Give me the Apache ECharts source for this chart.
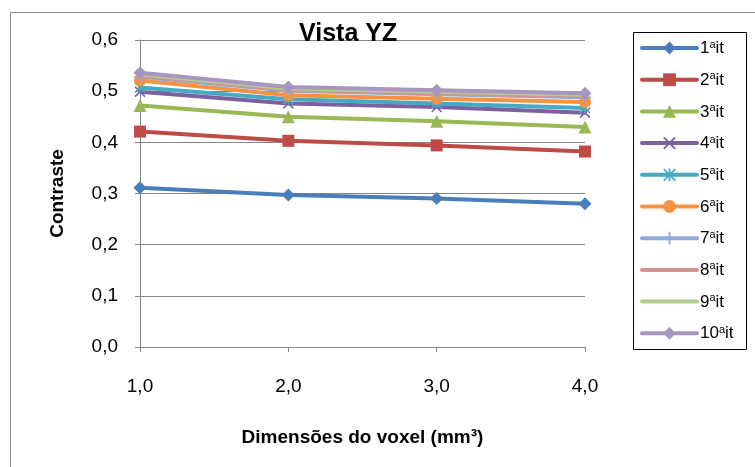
<!DOCTYPE html>
<html>
<head>
<meta charset="utf-8">
<script src="https://cdn.jsdelivr.net/npm/echarts@6/dist/echarts.min.js"></script>
<style>
  html, body { margin: 0; padding: 0; background: #fff; }
  #chart { width: 755px; height: 467px; }
</style>
</head>
<body>
<div id="chart"></div>
<script>
// Voxel sizes (mm³) on the horizontal axis
const voxelSizes = ['1,0', '2,0', '3,0', '4,0'];

// Contrast per iteration
const it1 = [0.311, 0.297, 0.290, 0.280];
const it2 = [0.421, 0.403, 0.394, 0.382];
const it3 = [0.472, 0.450, 0.441, 0.430];
const it4 = [0.499, 0.476, 0.469, 0.458];
const it5 = [0.507, 0.484, 0.476, 0.467];
const it6 = [0.521, 0.492, 0.485, 0.479];
const it7 = [0.528, 0.501, 0.494, 0.488];
const it8 = [0.530, 0.503, 0.496, 0.490];
const it9 = [0.533, 0.505, 0.499, 0.493];
const it10 = [0.536, 0.508, 0.502, 0.496];

const seriesNames = ['1ªit', '2ªit', '3ªit', '4ªit', '5ªit', '6ªit', '7ªit', '8ªit', '9ªit', '10ªit'];
const seriesValues = [it1, it2, it3, it4, it5, it6, it7, it8, it9, it10];

const yTicks = { min: 0, max: 0.6, step: 0.1 };

const colors = ['#4A7EBB', '#BE4B48', '#98B954', '#7D60A0', '#46AAC5', '#F39343',
                '#93AAD5', '#D49290', '#B5CC8F', '#A797C0'];

// Marker outlines drawn as filled paths
const crossPath = 'path://M1,0 L5,4 L9,0 L10,1 L6,5 L10,9 L9,10 L5,6 L1,10 L0,9 L4,5 L0,1 Z';
const starPath = 'path://M1,0 L5,4 L9,0 L10,1 L6,5 L10,9 L9,10 L5,6 L1,10 L0,9 L4,5 L0,1 Z M4.3,0 L5.7,0 L5.7,10 L4.3,10 Z';
const plusPath = 'path://M4.3,0 L5.7,0 L5.7,4.3 L10,4.3 L10,5.7 L5.7,5.7 L5.7,10 L4.3,10 L4.3,5.7 L0,5.7 L0,4.3 L4.3,4.3 Z';

const markers = [
  { symbol: 'diamond', size: 13 },
  { symbol: 'rect', size: 12 },
  { symbol: 'triangle', size: 13 },
  { symbol: crossPath, size: 11 },
  { symbol: starPath, size: 11 },
  { symbol: 'circle', size: 12 },
  { symbol: plusPath, size: 12 },
  { symbol: 'none', size: 0 },
  { symbol: 'none', size: 0 },
  { symbol: 'diamond', size: 13 }
];

const FONT = '"Liberation Sans", Arial, sans-serif';

const chart = echarts.init(document.getElementById('chart'), null, { renderer: 'canvas' });

const series = seriesNames.map((name, i) => ({
  name: name,
  type: 'line',
  data: seriesValues[i],
  symbol: markers[i].symbol === 'none' ? 'circle' : markers[i].symbol,
  symbolSize: markers[i].size,
  showSymbol: markers[i].symbol !== 'none',
  color: colors[i],
  lineStyle: { width: 4, color: colors[i], cap: 'round', join: 'round' },
  itemStyle: { color: colors[i], borderWidth: 0 },
  emphasis: { disabled: true },
  animation: false,
  z: 2 + i
}));

// Legend entries: plain line for the series that carry no marker
const legendData = seriesNames.map((name, i) => {
  const item = { name: name, lineStyle: { width: 4, color: colors[i], cap: 'round' } };
  if (markers[i].symbol === 'none') {
    item.itemStyle = { color: 'rgba(0,0,0,0)', borderWidth: 0 };
  }
  return item;
});

chart.setOption({
  backgroundColor: '#fff',
  animation: false,
  title: {
    text: 'Vista YZ',
    left: 294,
    top: 17,
    textStyle: { fontFamily: FONT, fontSize: 25, fontWeight: 'bold', color: '#000' }
  },
  graphic: [
    {
      type: 'rect',
      shape: { x: 10.5, y: 12.5, width: 900, height: 600 },
      style: { fill: 'none', stroke: '#8C8C8C', lineWidth: 1 },
      z: -1
    },
    {
      type: 'rect',
      shape: { x: 633.5, y: 32.5, width: 113, height: 317 },
      style: { fill: '#fff', stroke: '#000', lineWidth: 1 },
      z: 0
    }
  ],
  legend: {
    orient: 'vertical',
    left: 640,
    top: 39,
    padding: 0,
    itemWidth: 55,
    itemHeight: 16,
    itemGap: 13.7,
    z: 5,
    data: legendData,
    formatter: function (name) {
      const parts = name.split('ª');
      return '{n|' + parts[0] + '}{s|a}{n|' + parts[1] + '}';
    },
    textStyle: {
      fontFamily: FONT,
      fontSize: 17,
      color: '#000',
      padding: [0, 0, 0, -2],
      rich: {
        n: { fontFamily: FONT, fontSize: 17, color: '#000', lineHeight: 18, verticalAlign: 'bottom' },
        s: { fontFamily: FONT, fontSize: 11, color: '#000', lineHeight: 11, verticalAlign: 'top' }
      }
    }
  },
  grid: {
    left: 140,
    right: 170,
    top: 40,
    bottom: 120,
    containLabel: false
  },
  xAxis: {
    type: 'category',
    data: voxelSizes,
    boundaryGap: false,
    name: 'Dimensões do voxel (mm³)',
    nameLocation: 'middle',
    nameGap: 81,
    nameTextStyle: { fontFamily: FONT, fontSize: 19, fontWeight: 'bold', color: '#000' },
    axisLine: { show: true, lineStyle: { color: '#868686', width: 1 } },
    axisTick: { show: true, length: 5, lineStyle: { color: '#868686' } },
    axisLabel: { fontFamily: FONT, fontSize: 19, color: '#000', margin: 30 },
    splitLine: { show: false }
  },
  yAxis: {
    type: 'value',
    min: yTicks.min,
    max: yTicks.max,
    interval: yTicks.step,
    name: 'Contraste',
    nameLocation: 'middle',
    nameGap: 73,
    nameRotate: 90,
    nameTextStyle: { fontFamily: FONT, fontSize: 19, fontWeight: 'bold', color: '#000' },
    axisLine: { show: true, lineStyle: { color: '#868686', width: 1 } },
    axisTick: { show: true, length: 5, lineStyle: { color: '#868686' } },
    axisLabel: {
      fontFamily: FONT, fontSize: 19, color: '#000', margin: 22,
      formatter: v => v.toFixed(1).replace('.', ',')
    },
    splitLine: { show: true, lineStyle: { color: '#868686', width: 1 } }
  },
  series: series
});
</script>
</body>
</html>
